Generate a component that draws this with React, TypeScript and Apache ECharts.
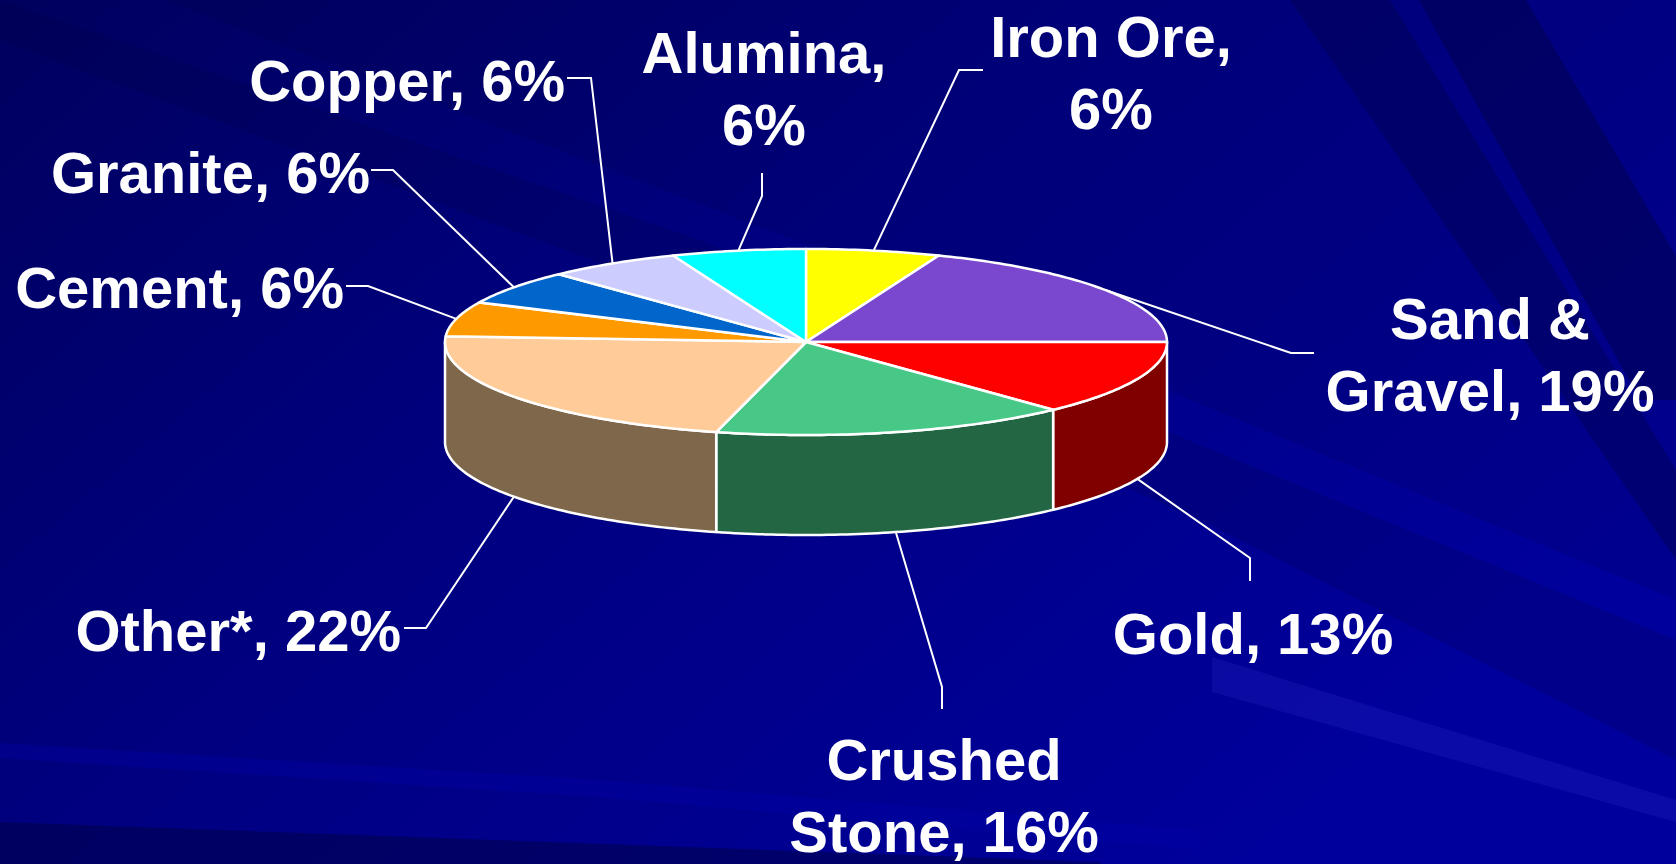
import React, { useEffect, useRef } from "react";
import * as echarts from "echarts";

// ---------- data ----------
const categories = ["Iron Ore", "Sand & Gravel", "Gold", "Crushed Stone", "Other*", "Cement", "Granite", "Copper", "Alumina"];
const shares = [6, 19, 13, 16, 22, 6, 6, 6, 6];
const labelNames = ["Iron Ore", "Sand &\nGravel", "Gold", "Crushed\nStone", "Other*", "Cement", "Granite", "Copper", "Alumina"];
const breakAfterComma = [true, false, false, false, false, false, false, false, true];

// ---------- styles ----------
const topColors = ["#FFFF00", "#7A48CE", "#FF0000", "#48C887", "#FFCC99", "#FF9900", "#0066CC", "#CCCCFF", "#00FFFF"];
const sideColors = ["#808000", "#3D2467", "#800000", "#236643", "#7F674B", "#804C00", "#003366", "#666680", "#008080"];

// ---------- layout (pixels) ----------
const CX = 806, CY = 342, RX = 361, RY = 93, DEPTH = 100;
const FONT = 58, LINE_H = 72;
const labelLayout = [
  { x: 1111, y: 72, align: "center", elbow: [959, 70], end: [983, 70] },
  { x: 1490, y: 354, align: "center", elbow: [1291, 353], end: [1314, 353] },
  { x: 1253, y: 633, align: "center", elbow: [1250, 558], end: [1250, 581] },
  { x: 944, y: 795, align: "center", elbow: [942, 687], end: [942, 709] },
  { x: 401, y: 630, align: "right", elbow: [426, 628], end: [404, 628] },
  { x: 344, y: 287, align: "right", elbow: [368, 286], end: [346, 286] },
  { x: 370, y: 172, align: "right", elbow: [393, 170], end: [371, 170] },
  { x: 565, y: 80, align: "right", elbow: [591, 78], end: [567, 78] },
  { x: 764, y: 88, align: "center", elbow: [762, 196], end: [762, 173] },
];

function pt(deg: number, dy = 0): number[] {
  const r = (deg * Math.PI) / 180;
  return [CX + RX * Math.sin(r), CY - RY * Math.cos(r) + dy];
}
function arcPts(a0: number, a1: number, dy: number): number[][] {
  const n = Math.max(2, Math.ceil(Math.abs(a1 - a0)));
  const out: number[][] = [];
  for (let k = 0; k <= n; k++) out.push(pt(a0 + ((a1 - a0) * k) / n, dy));
  return out;
}

export default function App() {
  const ref = useRef<HTMLDivElement>(null);
  useEffect(() => {
    if (!ref.current) return;
    const chart = echarts.init(ref.current, undefined, { renderer: "svg" });
    const total = shares.reduce((a, b) => a + b, 0);
    const starts: number[] = [];
    let acc = 0;
    shares.forEach((v) => {
      starts.push((acc / total) * 360);
      acc += v;
    });

    const renderItem = (params: any, api: any) => {
      const i = params.dataIndex;
      const v = api.value(0);
      const start = starts[i];
      const end = start + (v / total) * 360;
      const children: any[] = [];
      const s0 = Math.max(start, 90);
      const s1 = Math.min(end, 270);
      if (s1 > s0) {
        children.push({
          type: "polygon",
          z2: 1,
          shape: { points: [...arcPts(s0, s1, 0), ...arcPts(s1, s0, DEPTH)] },
          style: { fill: sideColors[i], stroke: "#ffffff", lineWidth: 2.5, lineJoin: "round" },
        });
      }
      children.push({
        type: "polygon",
        z2: 2,
        shape: { points: [[CX, CY], ...arcPts(start, end, 0)] },
        style: { fill: topColors[i], stroke: "#ffffff", lineWidth: 2.5, lineJoin: "round" },
      });
      const mid = (start + end) / 2;
      const front = mid > 90 && mid < 270;
      const p0 = pt(mid, front ? DEPTH : 0);
      const L = labelLayout[i];
      children.push({
        type: "polyline",
        z2: 0,
        shape: { points: [p0, L.elbow, L.end] },
        style: { stroke: "#ffffff", lineWidth: 2, fill: null },
      });
      const text = labelNames[i] + "," + (breakAfterComma[i] ? "\n" : " ") + v + "%";
      children.push({
        type: "text",
        z2: 3,
        x: L.x,
        y: L.y,
        style: {
          text,
          fill: "#ffffff",
          fontSize: FONT,
          fontWeight: "bold",
          fontFamily: '"Liberation Sans", Arial, sans-serif',
          align: L.align,
          verticalAlign: "middle",
          lineHeight: LINE_H,
        },
      });
      return { type: "group", children };
    };

    const W = 1676, H = 864;
    chart.setOption({
      animation: false,
      graphic: [
        {
          type: "rect",
          silent: true,
          z: -10,
          shape: { x: 0, y: 0, width: W, height: H },
          style: {
            fill: new echarts.graphic.LinearGradient(0, 0, 1, 0.6, [
              { offset: 0, color: "#00005E" },
              { offset: 0.45, color: "#000080" },
              { offset: 1, color: "#00009C" },
            ]),
          },
        },
        { type: "polygon", silent: true, z: -9, shape: { points: [[0, 822], [1100, 862], [1100, 864], [0, 864]] }, style: { fill: "rgba(0,0,60,0.45)" } },
        { type: "polygon", silent: true, z: -9, shape: { points: [[0, 743], [600, 780], [1200, 830], [1200, 850], [600, 797], [0, 758]] }, style: { fill: "rgba(0,0,170,0.35)" } },
        { type: "polygon", silent: true, z: -9, shape: { points: [[1212, 657], [1676, 800], [1676, 822], [1212, 692]] }, style: { fill: "rgba(60,60,220,0.18)" } },
        { type: "polygon", silent: true, z: -9, shape: { points: [[1419, 0], [1526, 0], [1760, 400], [1640, 400]] }, style: { fill: "rgba(0,0,70,0.45)" } },
        { type: "polygon", silent: true, z: -9, shape: { points: [[1290, 0], [1390, 0], [1676, 470], [1676, 560]] }, style: { fill: "rgba(0,0,70,0.35)" } },
        { type: "polygon", silent: true, z: -9, shape: { points: [[0, 40], [700, 300], [1200, 520], [1676, 760], [1676, 640], [700, 240], [0, 0]] }, style: { fill: "rgba(0,0,60,0.18)" } },
        { type: "polygon", silent: true, z: -9, shape: { points: [[165, 0], [900, 280], [1676, 600], [1676, 0]] }, style: { fill: "rgba(0,0,50,0.12)" } },
      ],
      series: [
        {
          type: "custom",
          coordinateSystem: "none",
          silent: true,
          clip: false,
          renderItem,
          data: shares.map((v, i) => ({ value: [v], name: categories[i] })),
        },
      ],
    });
    return () => chart.dispose();
  }, []);
  return <div ref={ref} style={{ position: "fixed", left: 0, top: 0, width: 1676, height: 864 }} />;
}
